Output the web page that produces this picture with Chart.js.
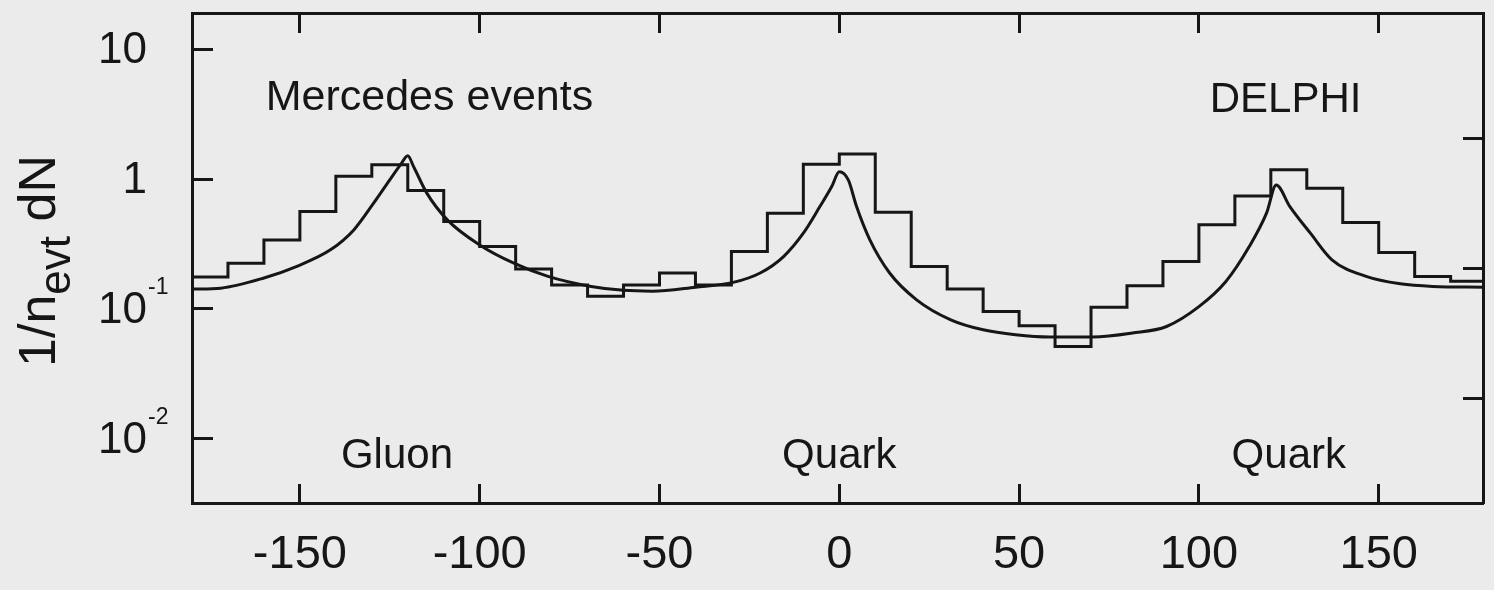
<!DOCTYPE html>
<html>
<head>
<meta charset="utf-8">
<title>Mercedes events - DELPHI</title>
<script src="https://cdn.jsdelivr.net/npm/chart.js@4.4.1/dist/chart.umd.min.js"></script>
<style>
  html, body { margin: 0; padding: 0; background: #ebebeb; }
  #wrap { width: 1494px; height: 590px; }
</style>
</head>
<body>
<div id="wrap"><canvas id="chart" width="1494" height="590"></canvas></div>
<script>
'use strict';

// angle bins, 10 degrees wide (lower edges)
const binStart = [-180, -170, -160, -150, -140, -130, -120, -110, -100, -90, -80, -70,
  -60, -50, -40, -30, -20, -10, 0, 10, 20, 30, 40, 50,
  60, 70, 80, 90, 100, 110, 120, 130, 140, 150, 160, 170];
const binWidth = 10;
const histValues = [0.176, 0.225, 0.340, 0.562, 1.05, 1.29, 0.816, 0.471, 0.302, 0.203, 0.153, 0.125,
  0.153, 0.189, 0.153, 0.277, 0.546, 1.30, 1.56, 0.556, 0.212, 0.142, 0.0955, 0.0741,
  0.0513, 0.103, 0.151, 0.232, 0.444, 0.742, 1.18, 0.851, 0.463, 0.272, 0.178, 0.163];

// smooth prediction curve
const curveAngle = [-180, -172, -160, -151, -141.5, -135, -129.5, -125, -122, -120,
  -118.4, -114.7, -109, -100, -90.5, -81, -69, -60, -52, -40,
  -29.5, -22, -15.5, -10, -5.4, -2.1, 0, 2.5, 4.8, 8.5,
  14, 21.5, 31, 40, 49, 58.5, 70.5, 81.5, 91, 100,
  107.5, 114, 118.8, 121.5, 125.3, 131, 137, 146.5, 156, 165, 179];
const curveValue = [0.142, 0.1445, 0.173, 0.212, 0.285, 0.406, 0.652, 0.986, 1.29, 1.51,
  1.25, 0.779, 0.485, 0.311, 0.225, 0.178, 0.149, 0.139, 0.137, 0.147,
  0.160, 0.189, 0.253, 0.383, 0.614, 0.876, 1.14, 0.986, 0.614, 0.340,
  0.189, 0.1175, 0.0824, 0.069, 0.0632, 0.0607, 0.0607, 0.0651, 0.0732, 0.104,
  0.1625, 0.302, 0.546, 0.90, 0.614, 0.383, 0.239, 0.178, 0.156, 0.149, 0.147];

const xTicks = [-150, -100, -50, 0, 50, 100, 150];
const yTicks = [0.01, 0.1, 1, 10];
const yTicksRight = [0.01, 0.1, 1];

const notes = [
  { text: 'Mercedes events', x: -159.5, y: 3.41, align: 'left', size: 43 },
  { text: 'DELPHI', x: 103, y: 3.31, align: 'left', size: 42 },
  { text: 'Gluon', x: -123, y: 0.0059, align: 'center', size: 42 },
  { text: 'Quark', x: 0, y: 0.006, align: 'center', size: 42 },
  { text: 'Quark', x: 125, y: 0.006, align: 'center', size: 42 }
];

const ink = '#161616';
const family = '"Liberation Sans", Arial, Helvetica, sans-serif';

// histogram as a stepped line: each bin start, plus the closing edge
const histPoints = binStart.map((a, i) => ({ x: a, y: histValues[i] }));
histPoints.push({ x: binStart[binStart.length - 1] + binWidth, y: histValues[histValues.length - 1] });
const curvePoints = curveAngle.map((a, i) => ({ x: a, y: curveValue[i] }));

const setTicks = list => axis => { axis.ticks = list.map(v => ({ value: v })); };
const inward = len => ({ drawOnChartArea: false, drawTicks: true, tickLength: -len, tickWidth: 3, tickColor: ink });
const frame = { display: true, color: ink, width: 3 };

const textLayer = {
  id: 'textLayer',
  beforeDraw(chart) {
    const ctx = chart.ctx;
    ctx.save();
    ctx.fillStyle = '#ebebeb';
    ctx.fillRect(0, 0, chart.width, chart.height);
    ctx.restore();
  },
  afterDraw(chart) {
    const ctx = chart.ctx;
    const area = chart.chartArea;
    const xs = chart.scales.x;
    const ys = chart.scales.y;
    ctx.save();
    ctx.fillStyle = ink;

    // y labels: 10, 1, 10^-1, 10^-2 with raised exponents
    ys.ticks.forEach(t => {
      const py = ys.getPixelForValue(t.value);
      const p = Math.round(Math.log10(t.value));
      const right = area.left - 45;
      ctx.font = '44px ' + family;
      ctx.textAlign = 'right';
      ctx.textBaseline = 'middle';
      ctx.fillText(p === 0 ? '1' : '10', right, py + 2);
      if (p < 0) {
        ctx.font = '23px ' + family;
        ctx.textAlign = 'left';
        ctx.textBaseline = 'alphabetic';
        ctx.fillText(String(p), right + 1, py - 15);
      }
    });

    // text inside the frame
    ctx.textBaseline = 'alphabetic';
    notes.forEach(n => {
      ctx.font = n.size + 'px ' + family;
      ctx.textAlign = n.align;
      ctx.fillText(n.text, xs.getPixelForValue(n.x), ys.getPixelForValue(n.y));
    });

    // rotated axis title 1/n_evt dN
    const parts = [
      { t: '1/n', size: 52, dy: 0 },
      { t: 'evt', size: 44, dy: 15 },
      { t: ' dN', size: 52, dy: 0 }
    ];
    let total = 0;
    parts.forEach(s => { ctx.font = s.size + 'px ' + family; s.w = ctx.measureText(s.t).width; total += s.w; });
    ctx.translate(55, (area.top + area.bottom) / 2 + 3);
    ctx.rotate(-Math.PI / 2);
    ctx.textAlign = 'left';
    let pos = -total / 2;
    parts.forEach(s => {
      ctx.font = s.size + 'px ' + family;
      ctx.fillText(s.t, pos, s.dy);
      pos += s.w;
    });
    ctx.restore();
  }
};

const chartConfig = {
  type: 'line',
  data: {
    datasets: [
      {
        label: 'data',
        data: histPoints,
        stepped: 'before',
        borderColor: ink,
        borderWidth: 3,
        pointRadius: 0,
        fill: false
      },
      {
        label: 'model',
        data: curvePoints,
        cubicInterpolationMode: 'monotone',
        borderColor: ink,
        borderWidth: 3,
        pointRadius: 0,
        fill: false
      }
    ]
  },
  options: {
    responsive: false,
    animation: false,
    devicePixelRatio: 1,
    layout: { padding: 0 },
    plugins: { legend: { display: false }, tooltip: { enabled: false } },
    scales: {
      x: {
        type: 'linear', position: 'bottom', min: -180, max: 179,
        afterBuildTicks: setTicks(xTicks),
        afterFit: axis => { axis.height = 87; },
        grid: inward(19),
        border: frame,
        ticks: { color: ink, font: { family: family, size: 47 }, padding: 43, maxRotation: 0, autoSkip: false }
      },
      x2: {
        type: 'linear', position: 'top', min: -180, max: 179,
        afterBuildTicks: setTicks(xTicks),
        afterFit: axis => { axis.height = 13; },
        grid: inward(20),
        border: frame,
        ticks: { display: false }
      },
      y: {
        type: 'logarithmic', position: 'left',
        min: Math.pow(10, -2.495), max: Math.pow(10, 1.279),
        afterBuildTicks: setTicks(yTicks),
        afterFit: axis => { axis.width = 192; },
        grid: inward(21),
        border: frame,
        ticks: { display: false }
      },
      y2: {
        type: 'logarithmic', position: 'right',
        min: Math.pow(10, -2.804), max: Math.pow(10, 0.970),
        afterBuildTicks: setTicks(yTicksRight),
        afterFit: axis => { axis.width = 11; },
        grid: inward(20),
        border: frame,
        ticks: { display: false }
      }
    }
  },
  plugins: [textLayer]
};

const myChart = new Chart(document.getElementById('chart'), chartConfig);
</script>
</body>
</html>
